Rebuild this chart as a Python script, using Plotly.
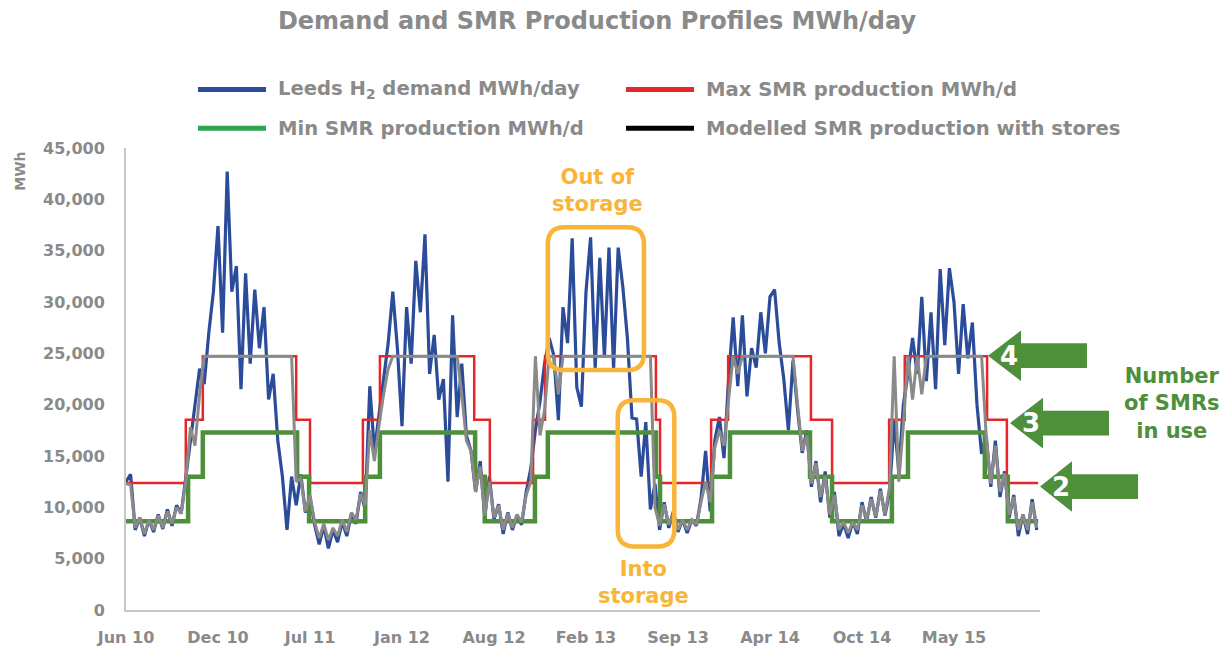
import plotly.graph_objects as go

# canvas and plot area in px
W, H = 1231, 659
L, R, T, B = 126, 191, 148, 45

FONT = "DejaVu Sans, Open Sans, sans-serif"
TXT = "#8a8a8a"
BLUE = "#2b4c9a"
RED = "#e5262a"
GREEN = "#4e8f3b"
GREY = "#8a8a8a"
ORANGE = "#f9b43a"

# days since 1 Jun 2010, read every 10 days
day = list(range(0, 1990, 10))

demand = [
    12500, 13200, 7800, 9000, 7200, 8800, 7600, 9300, 7900, 9800,
    8200, 10200, 9400, 12900, 16000, 19500, 23500, 22000, 27000, 31000,
    37400, 27000, 42700, 31000, 33500, 21500, 32800, 24000, 31200, 25500,
    29500, 20500, 23000, 16500, 13000, 7800, 13000, 10200, 13200, 9500,
    11000, 8300, 6400, 8200, 6000, 7800, 6600, 8600, 7200, 9400,
    8400, 11500, 9800, 21800, 15500, 19000, 22500, 26000, 31000, 25500,
    17900, 29500, 24000, 34000, 29000, 36600, 23000, 26800, 20500, 22500,
    12500, 28700, 18800, 24000, 17000, 15500, 11500, 14500, 9000, 13000,
    8800, 10300, 7400, 9500, 7800, 9200, 8300, 11500, 13800, 17500,
    20300, 24000, 26500, 24800, 18500, 29500, 26000, 36200, 21700, 19800,
    31000, 36300, 23500, 34300, 24600, 35300, 23500, 35300, 31500, 26500,
    18700, 18600, 13000, 18300, 9800, 12300, 7800, 10500, 8000, 9600,
    7600, 8800, 7500, 8800, 8200, 10800, 15500, 9600, 16500, 18800,
    14800, 22500, 28500, 21800, 28700, 20800, 25500, 23600, 29000, 25000,
    30500, 31200, 26000, 22500, 17500, 24300, 19500, 15300, 17500, 12000,
    14500, 10500, 13500, 9000, 11500, 7200, 8400, 7000, 8600, 7400,
    10500, 8600, 11000, 9000, 11800, 9200, 11500, 18500, 13500, 20000,
    23000, 26500, 23000, 30500, 22300, 29000, 21500, 33200, 25800, 33300,
    30000, 23000, 29800, 24500, 28000, 20000, 15200, 17000, 12000, 16500,
    11000, 13500, 9000, 11200, 7200, 9300, 7400, 10800, 7800,
]

modelled = [
    12300, 12200, 8000, 9000, 7400, 8800, 7800, 9200, 8000, 9600,
    8400, 10000, 9400, 12600, 17800, 16000, 21000, 24720, 24720, 24720,
    24720, 24720, 24720, 24720, 24720, 24720, 24720, 24720, 24720, 24720,
    24720, 24720, 24720, 24720, 24720, 24720, 24720, 12500, 12800, 9600,
    11200, 8600, 7000, 8400, 6800, 8000, 7200, 8800, 7600, 9500,
    8800, 11300, 10200, 17500, 14500, 18000, 21000, 23500, 24720, 24720,
    24720, 24720, 24720, 24720, 24720, 24720, 24720, 24720, 24720, 24720,
    24720, 24720, 24720, 21000, 16500, 15500, 11500, 14000, 9200, 12500,
    9000, 10200, 7800, 9400, 8000, 9300, 8600, 11200, 12500, 24720,
    17000, 19500, 24720, 24720, 21000, 24720, 24720, 24720, 24720, 24720,
    24720, 24720, 24720, 24720, 24720, 24720, 24720, 24720, 24720, 24720,
    24720, 24720, 24720, 24720, 24720, 10000, 8200, 10300, 8300, 9400,
    7800, 8800, 7800, 8800, 8300, 10500, 12500, 10500, 15800, 17500,
    16000, 20500, 24720, 23000, 24720, 24720, 24720, 24720, 24720, 24720,
    24720, 24720, 24720, 24720, 24720, 24720, 20000, 15500, 17000, 12300,
    14300, 11000, 13000, 9300, 11200, 7800, 8600, 7500, 8600, 7800,
    10200, 8800, 10800, 9100, 11600, 9300, 12000, 24720, 12500, 18000,
    24720, 20500, 24720, 21000, 24720, 24720, 24720, 24720, 24720, 24720,
    24720, 24720, 24720, 24720, 24720, 24720, 24720, 17000, 12300, 16000,
    11500, 13300, 9300, 11000, 7800, 9300, 7800, 10500, 8000,
]

# SMR envelope: day each level starts, level in MWh/d
max_day = [0, 130, 167, 370, 400, 515, 552, 757, 791, 885, 911,
           1152, 1161, 1272, 1309, 1489, 1535, 1659, 1693, 1872, 1915, 1983]
max_prod = [12360, 18540, 24720, 18540, 12360, 18540, 24720, 18540, 12360, 18540, 24720,
            18540, 12360, 18540, 24720, 18540, 12360, 18540, 24720, 18540, 12360, 12360]
min_day = [0, 135, 167, 372, 398, 520, 552, 759, 780, 889, 917,
           1152, 1161, 1274, 1313, 1487, 1535, 1665, 1700, 1867, 1917, 1983]
min_prod = [8650, 12975, 17300, 12975, 8650, 12975, 17300, 12975, 8650, 12975, 17300,
            12975, 8650, 12975, 17300, 12975, 8650, 12975, 17300, 12975, 8650, 8650]

tick_days = [0, 200, 400, 600, 800, 1000, 1200, 1400, 1600, 1800]
tick_labels = ["Jun 10", "Dec 10", "Jul 11", "Jan 12", "Aug 12",
               "Feb 13", "Sep 13", "Apr 14", "Oct 14", "May 15"]

legend_names = ["Leeds H<sub>2</sub> demand MWh/day", "Max SMR production MWh/d",
                "Min SMR production MWh/d", "Modelled SMR production with stores"]
legend_colors = [BLUE, RED, "#2ea550", "#000000"]

smr_count = ["4", "3", "2"]


def pxx(px):
    return (px - L) / (W - L - R)


def pxy(py):
    return (H - B - py) / (H - T - B)


def rounded_box(x0, x1, y0, y1, rx, ry):
    return (f"M{x0 + rx},{y1} L{x1 - rx},{y1} Q{x1},{y1} {x1},{y1 - ry} "
            f"L{x1},{y0 + ry} Q{x1},{y0} {x1 - rx},{y0} L{x0 + rx},{y0} "
            f"Q{x0},{y0} {x0},{y0 + ry} L{x0},{y1 - ry} Q{x0},{y1} {x0 + rx},{y1} Z")


def arrow(tip_x, tip_y, head_x, end_x, hh, sh):
    pts = [(tip_x, tip_y), (head_x, tip_y - hh), (head_x, tip_y - sh), (end_x, tip_y - sh),
           (end_x, tip_y + sh), (head_x, tip_y + sh), (head_x, tip_y + hh)]
    return "M" + " L".join(f"{pxx(a)},{pxy(b)}" for a, b in pts) + " Z"


fig = go.Figure()
fig.add_trace(go.Scatter(x=day, y=demand, mode="lines", name="Leeds H2 demand",
                         line=dict(color=BLUE, width=3.2), showlegend=False))
fig.add_trace(go.Scatter(x=max_day, y=max_prod, mode="lines", name="Max SMR",
                         line=dict(color=RED, width=2.5, shape="hv"), showlegend=False))
fig.add_trace(go.Scatter(x=min_day, y=min_prod, mode="lines", name="Min SMR",
                         line=dict(color=GREEN, width=4.5, shape="hv"), showlegend=False))
fig.add_trace(go.Scatter(x=day, y=modelled, mode="lines", name="Modelled SMR",
                         line=dict(color=GREY, width=3), showlegend=False))

shapes = []
annots = []

# hand-drawn legend, two columns
for i, (name, col) in enumerate(zip(legend_names, legend_colors)):
    lx = [198, 626][i % 2]
    ly = [89, 128][i // 2]
    shapes.append(dict(type="line", xref="paper", yref="paper",
                       x0=pxx(lx), x1=pxx(lx + 68), y0=pxy(ly), y1=pxy(ly),
                       line=dict(color=col, width=5)))
    annots.append(dict(xref="paper", yref="paper", x=pxx(lx + 78), y=pxy(ly),
                       xanchor="left", yanchor="middle", showarrow=False, text=name,
                       font=dict(size=19.6, color=TXT, weight=700)))

# storage call-outs
shapes.append(dict(type="path", xref="x", yref="y", line=dict(color=ORANGE, width=4.5),
                   path=rounded_box(917, 1126, 23370, 37280, 36, 1650)))
shapes.append(dict(type="path", xref="x", yref="y", line=dict(color=ORANGE, width=4.5),
                   path=rounded_box(1069, 1192, 6180, 20440, 36, 1650)))
for txt, x, y in [("Out of<br>storage", 1024, 40900), ("Into<br>storage", 1124, 2700)]:
    annots.append(dict(xref="x", yref="y", x=x, y=y, text=txt, showarrow=False,
                       xanchor="center", yanchor="middle",
                       font=dict(size=21, color=ORANGE, weight=700)))

# number of SMRs arrows
for n, (tx, ty, hx, ex) in zip(smr_count, [(988, 357.5, 1021, 1087),
                                           (1010, 425.5, 1043, 1109),
                                           (1040, 489.5, 1072, 1138)]):
    shapes.append(dict(type="path", xref="paper", yref="paper", path=arrow(tx, ty, hx, ex, 25.5, 12.5),
                       fillcolor=GREEN, line=dict(width=0)))
    annots.append(dict(xref="paper", yref="paper", x=pxx(tx + 21), y=pxy(ty), text=n,
                       xanchor="center", yanchor="middle", showarrow=False,
                       font=dict(size=26, color="white", weight=700)))
annots.append(dict(xref="paper", yref="paper", x=pxx(1172), y=pxy(406),
                   xanchor="center", yanchor="middle",
                   text="Number<br>of SMRs<br>in use", showarrow=False,
                   font=dict(size=21, color=GREEN, weight=700)))

annots.append(dict(xref="paper", yref="paper", x=pxx(20), y=pxy(172), text="MWh",
                   xanchor="center", yanchor="middle",
                   textangle=-90, showarrow=False, font=dict(size=14, color=TXT, weight=700)))

fig.update_layout(
    width=W, height=H,
    margin=dict(l=L, r=R, t=T, b=B),
    paper_bgcolor="white", plot_bgcolor="white",
    font=dict(family=FONT, color=TXT),
    title=dict(text="Demand and SMR Production Profiles MWh/day", xref="container",
               x=597 / W, xanchor="center", y=1 - 21 / H, yanchor="middle",
               font=dict(size=24, color=TXT, weight=700)),
    shapes=shapes, annotations=annots, showlegend=False,
)
fig.update_xaxes(range=[0, 1987], tickvals=tick_days, ticktext=tick_labels,
                 showgrid=False, zeroline=False, showline=True, linecolor="#c8c8c8", linewidth=2,
                 ticks="", ticklabelstandoff=12,
                 tickfont=dict(size=16, color=TXT, weight=700))
fig.update_yaxes(range=[0, 45000], dtick=5000, tickformat=",",
                 showgrid=False, zeroline=False, showline=True, linecolor="#c8c8c8", linewidth=2,
                 ticks="", ticklabelstandoff=16,
                 tickfont=dict(size=16, color=TXT, weight=700))

fig.write_html("out.html", config={"displayModeBar": False},
               post_script="document.body.style.margin='0';")
